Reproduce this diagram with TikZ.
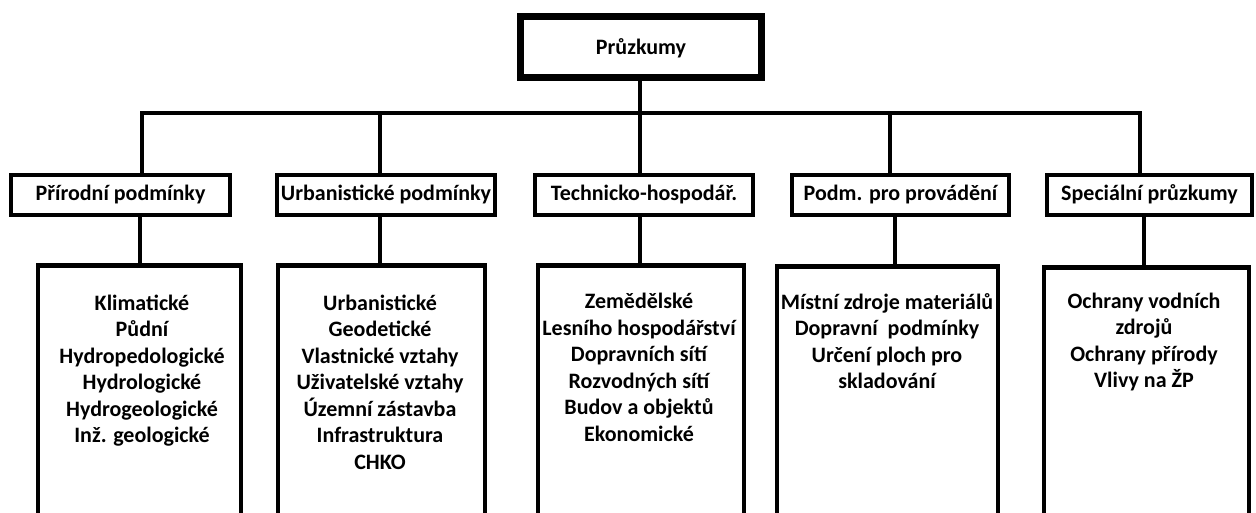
\documentclass[tikz,border=0pt]{standalone}
\usepackage{fontspec}
\setmainfont{Carlito}
\begin{document}
\begin{tikzpicture}[x=1pt,y=-1pt,
  every node/.style={font=\bfseries\fontsize{22}{26.5}\selectfont, text=black},
  topbox/.style={draw, line width=7pt, minimum width=241pt, minimum height=61pt, inner sep=0pt, text height=16pt, text depth=2pt},
  midbox/.style={draw, line width=4.5pt, minimum height=40pt, inner sep=0pt, text height=14pt, text depth=4pt},
  bigbox/.style={draw, line width=4.5pt, minimum height=300pt, inner sep=0pt, anchor=north},
  list/.style={align=center, anchor=north, inner sep=0pt},
  conn/.style={line width=4.5pt}]
\useasboundingbox (0,0) rectangle (1256,512);
\clip (0,0) rectangle (1256,512);
\fill[white] (0,0) rectangle (1256,512);

% top
\node[topbox] (top) at (641,47) {Průzkumy};

% second level
\node[midbox, minimum width=219pt] (b1) at (120.5,195) {Přírodní podmínky};
\node[midbox, minimum width=218pt] (b2) at (386,195) {Urbanistické podmínky};
\node[midbox, minimum width=218pt] (b3) at (644,195) {Technicko-hospodář.};
\node[midbox, minimum width=217pt] (b4) at (900.5,195) {Podm. pro provádění};
\node[midbox, minimum width=205pt] (b5) at (1149.5,195) {Speciální průzkumy};

% third level boxes
\node[bigbox, minimum width=203pt] (bA) at (139.5,263) {};
\node[bigbox, minimum width=207pt] (bB) at (381.5,263) {};
\node[bigbox, minimum width=206pt] (bC) at (641,263) {};
\node[bigbox, minimum width=221pt] (bD) at (887.5,264) {};
\node[bigbox, minimum width=205pt] (bE) at (1146.5,265) {};

% texts
\node[list] (tA) at (142,291.5) {\strut Klimatické\\Půdní\\Hydropedologické\\Hydrologické\\Hydrogeologické\\Inž. geologické};
\node[list] (tB) at (380,291.5) {\strut Urbanistické\\Geodetické\\Vlastnické vztahy\\Uživatelské vztahy\\Územní zástavba\\Infrastruktura\\CHKO};
\node[list] (tC) at (639,290) {\strut Zemědělské\\Lesního hospodářství\\Dopravních sítí\\Rozvodných sítí\\Budov a objektů\\Ekonomické};
\node[list] (tD) at (887,290.5) {\strut Místní zdroje materiálů\\Dopravní\ \ podmínky\\Určení ploch pro\\skladování};
\node[list] (tE) at (1144,289.5) {\strut Ochrany vodních\\zdrojů\\Ochrany přírody\\Vlivy na ŽP};

% junction points
\coordinate (j1) at (142,113);
\coordinate (j2) at (380,113);
\coordinate (j3) at (640,113);
\coordinate (j4) at (890,113);
\coordinate (j5) at (1140,113);
\coordinate (k1) at (140,0);
\coordinate (k2) at (380,0);
\coordinate (k3) at (640,0);
\coordinate (k4) at (895,0);
\coordinate (k5) at (1144,0);

\draw[conn] (j1 |- b1.north) -- (j1) -- (j5) -- (j5 |- b5.north);
\draw[conn] (j3 |- top.south) -- (j3 |- b3.north);
\draw[conn] (j2) -- (j2 |- b2.north);
\draw[conn] (j4) -- (j4 |- b4.north);

\draw[conn] (k1 |- b1.south) -- (k1 |- bA.north);
\draw[conn] (k2 |- b2.south) -- (k2 |- bB.north);
\draw[conn] (k3 |- b3.south) -- (k3 |- bC.north);
\draw[conn] (k4 |- b4.south) -- (k4 |- bD.north);
\draw[conn] (k5 |- b5.south) -- (k5 |- bE.north);
\end{tikzpicture}
\end{document}
